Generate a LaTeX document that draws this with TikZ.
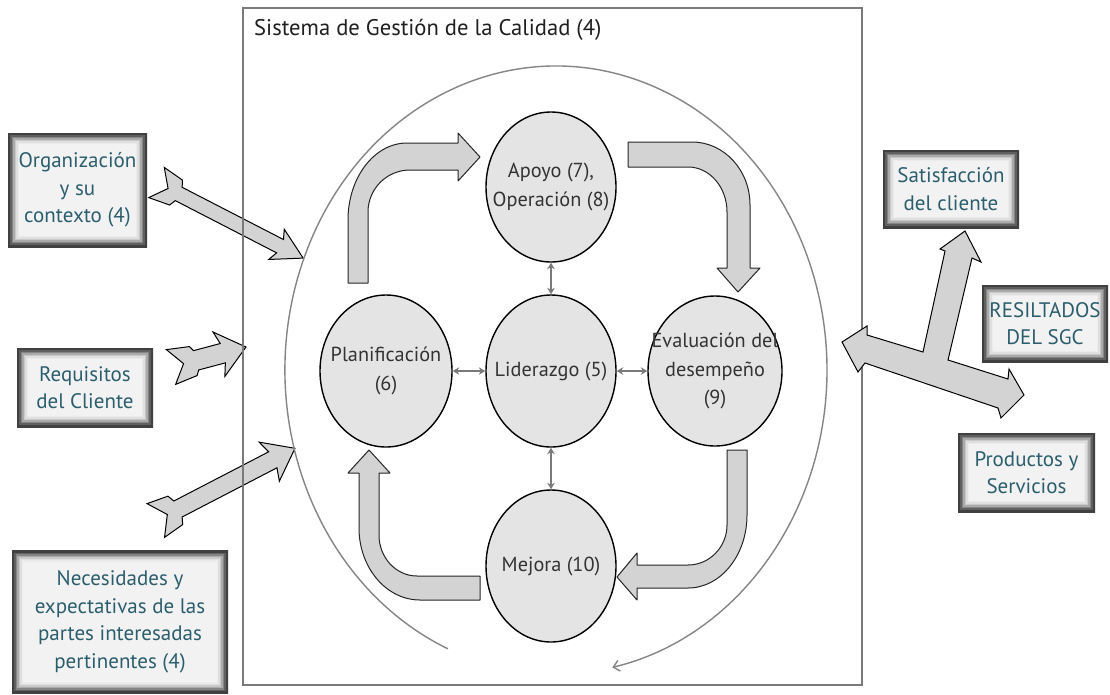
\documentclass[tikz,border=0pt]{standalone}
\usepackage{fontspec}
\setmainfont{PT Sans}
\usetikzlibrary{arrows.meta,shapes.geometric}
\definecolor{framegray}{HTML}{7A7A7A}
\definecolor{ringgray}{HTML}{858585}
\definecolor{circfill}{HTML}{E4E4E4}
\definecolor{arrfill}{HTML}{D3D3D3}
\definecolor{boxtext}{HTML}{2B5E6D}
\definecolor{txtgray}{HTML}{333333}
\definecolor{boxfill}{HTML}{F2F2F2}
\definecolor{glowA}{HTML}{404040}
\definecolor{glowB}{HTML}{606060}
\definecolor{glowC}{HTML}{858585}
\definecolor{glowD}{HTML}{AAAAAA}
\definecolor{glowE}{HTML}{C9C9C9}
\definecolor{glowF}{HTML}{DFDFDF}
\definecolor{glowG}{HTML}{EBEBEB}

\newcommand{\fletcharrow}[8]{%
  \begin{scope}[shift={(#1)},rotate=#2]
    \draw[extarrow] (0,#4) -- ({#8-3},{#4-3}) -- (#8,#5) -- ({#3-#7},#5)
      -- ({#3-#7-4},#6) -- (#3,0) -- ({#3-#7-4},{-#6}) -- ({#3-#7},{-#5})
      -- (#8,{-#5}) -- ({#8-3},{3-#4}) -- (0,{-#4}) -- (13,0) -- cycle;
  \end{scope}}
\newcommand{\glowrect}[3]{%
  \draw[#1, line width=1.6pt] ([shift={(#2,-#2)}]path picture bounding box.south west) rectangle ([shift={(-#2,#2)}]path picture bounding box.north east);}

\begin{document}
\begin{tikzpicture}[x=1pt,y=-1pt,
  stage/.style={ellipse, draw=black, line width=1.4pt, fill=circfill, inner sep=0pt},
  stagetext/.style={text=txtgray, align=center, inner sep=0pt, font=\fontsize{20.3}{28.5}\selectfont},
  extbox/.style={rectangle, fill=boxfill, inner sep=0pt, align=center, text=boxtext,
    font=\fontsize{21}{27.5}\selectfont,
    path picture={
      \draw[glowA, line width=4.4pt] (path picture bounding box.south west) rectangle (path picture bounding box.north east);
      \glowrect{glowB}{3}{}
      \glowrect{glowC}{4.5}{}
      \glowrect{glowD}{6}{}
      \glowrect{glowE}{7.5}{}
      \glowrect{glowF}{9}{}
      \glowrect{glowG}{10.5}{}
    }},
  cyclearrow/.style={fill=arrfill, draw=black!85, line width=1pt, line join=round},
  extarrow/.style={fill=arrfill, draw=black, line width=1pt, line join=miter},
  link/.style={draw=framegray, line width=2pt, {Stealth[length=6.5pt,width=7.5pt]}-{Stealth[length=6.5pt,width=7.5pt]}},
]
\useasboundingbox (0,0) rectangle (1110,694);
\fill[white] (0,0) rectangle (1110,694);

% external input arrows (left)
\fletcharrow{156.5,182.5}{-27.27}{165}{17}{7.5}{17}{26}{25}
\fletcharrow{171,367}{14.93}{77.6}{18}{10}{23}{24}{26}
\fletcharrow{155.8,520.5}{27.42}{156.8}{19}{9}{22}{25}{25}

% system frame
\node[draw=framegray, line width=2pt, minimum width=619pt, minimum height=677pt, inner sep=0pt] (sgc) at (552.5,346.5) {};
\node[anchor=west, text=black!88, font=\fontsize{22.6}{25}\selectfont, inner sep=0pt] (title) at (254,30) {Sistema de Gestión de la Calidad (4)};

% big ring with arrow
\coordinate (ringstart) at (447.9,648.8);
\draw[ringgray, line width=1.4pt, -{Straight Barb[length=6pt,width=11pt]}] (ringstart) arc[start angle=113.5, end angle=438, x radius=271, y radius=304];

% cycle arrows
\draw[cyclearrow] (348,283) -- (348,220) .. controls (348,177.5) and (374.4,143) .. (407,143) -- (458,143) -- (458,133) -- (480,157) -- (458,181) -- (458,170) -- (410,170) .. controls (386.8,170) and (368,188.8) .. (368,212) -- (368,283) -- cycle;
\draw[cyclearrow] (628,142) -- (692,142) .. controls (724,142) and (750,170) .. (750,205) -- (750,268) -- (760,268) -- (738,292) -- (717,268) -- (727,268) -- (727,212) .. controls (727,187) and (709.5,167) .. (688,167) -- (628,167) -- cycle;
\draw[cyclearrow] (727,450) -- (747,450) -- (747,515) .. controls (747,555.3) and (720.6,588) .. (688,588) -- (637,588) -- (637,600) -- (617,577) -- (637,553) -- (637,565) -- (688,565) .. controls (709.5,565) and (727,547) .. (727,525) -- cycle;
\draw[cyclearrow] (480,576) -- (480,600) -- (420,600) .. controls (386.3,600) and (359,567.7) .. (359,528) -- (359,473) -- (348,473) -- (369,450) -- (390,473) -- (379,473) -- (379,535) .. controls (379,557.6) and (396,576) .. (417,576) -- cycle;

% stages
\node[stage, minimum width=130pt, minimum height=150pt, label={[stagetext]center:{Apoyo (7),\\Operación (8)}}] (apoyo) at (551,187) {};
\node[stage, minimum width=130pt, minimum height=152pt, label={[stagetext]center:{Liderazgo (5)}}] (lider) at (551,371) {};
\node[stage, minimum width=132pt, minimum height=152pt, label={[stagetext]center:{Planificación\\(6)}}] (plan) at (386,371) {};
\node[stage, minimum width=134pt, minimum height=150pt, label={[stagetext]center:{Evaluación del\\desempeño\\(9)}}] (eval) at (715,371) {};
\node[stage, minimum width=130pt, minimum height=152pt, label={[stagetext]center:{Mejora (10)}}] (mejora) at (551,566) {};

\draw[link] (plan) -- (lider);
\draw[link] (lider) -- (eval);
\draw[link] (apoyo) -- (lider);
\draw[link] (lider) -- (mejora);

% external boxes
\node[extbox, minimum width=139pt, minimum height=114pt] (org) at (77.5,190) {Organización\\y su\\contexto (4)};
\node[extbox, minimum width=136pt, minimum height=79pt] (req) at (85,387.5) {Requisitos\\del Cliente};
\node[extbox, minimum width=216pt, minimum height=143pt] (nec) at (120,622) {Necesidades y\\expectativas de las\\partes interesadas\\pertinentes (4)};
\node[extbox, minimum width=136pt, minimum height=78pt] (sat) at (951,189) {Satisfacción\\del cliente};
\node[extbox, minimum width=126pt, minimum height=77pt] (res) at (1045,323.5) {RESILTADOS\\DEL SGC};
\node[extbox, minimum width=137pt, minimum height=79pt] (prod) at (1026.5,472.5) {Productos y\\Servicios};

% output T arrow
\draw[extarrow] (842,342) -- (867,326) -- (867,335) -- (923,352) -- (945,251) -- (940,249) -- (965,231) -- (981,262) -- (972,258) -- (948,360) -- (1008,379) -- (1009,369) -- (1024,395) -- (1001,418) -- (998,408) -- (865,363) -- (858,372) -- cycle;
\end{tikzpicture}
\end{document}
